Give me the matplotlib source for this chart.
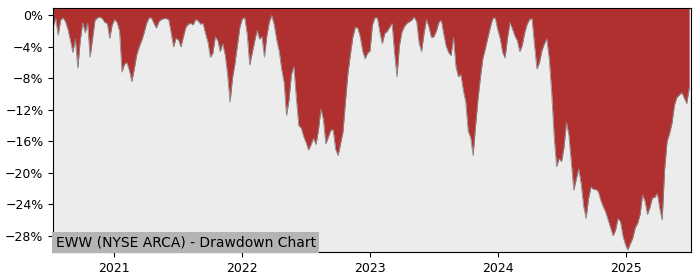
import matplotlib
matplotlib.use('Agg')
import matplotlib.pyplot as plt
import matplotlib.dates as mdates
from matplotlib.ticker import PercentFormatter
import pandas as pd

# weekly drawdown (%), starting mid July 2020
start_date = "2020-07-13"
drawdown = [
    -1.45, -0.4, -2.5, -0.6, -0.3, -0.8, -1.8, -3.2, -4.7, -3.0,
    -6.7, -3.2, -0.9, -2.2, -1.0, -5.3, -3.0, -0.6, -0.3, -0.2,
    -0.4, -0.9, -1.0, -2.9, -1.2, -0.5, -0.9, -2.0, -7.2, -6.2,
    -6.0, -7.0, -8.4, -6.8, -5.0, -4.0, -3.2, -2.2, -1.0, -0.3,
    -0.3, -1.0, -1.6, -0.8, -0.5, -0.4, -0.4, -0.5, -2.2, -4.0,
    -2.9, -3.1, -4.0, -2.7, -1.5, -1.1, -1.0, -1.2, -0.5, -0.7,
    -1.1, -1.0, -2.3, -3.4, -5.3, -4.8, -2.7, -3.2, -4.6, -3.6,
    -5.0, -7.5, -11.0, -8.0, -6.1, -3.8, -1.5, -0.4, -0.3, -2.4,
    -6.3, -4.8, -3.3, -1.9, -3.0, -2.7, -5.3, -2.6, -0.8, 0.0,
    -1.2, -3.1, -4.5, -6.8, -8.5, -12.7, -10.8, -7.5, -6.5, -10.5,
    -14.0, -14.3, -15.4, -16.2, -17.1, -16.4, -15.6, -16.4, -14.6, -11.9,
    -13.2, -16.3, -15.5, -14.6, -14.5, -17.0, -17.8, -16.3, -14.8, -11.0,
    -7.4, -5.0, -2.8, -1.5, -1.6, -2.7, -4.5, -5.5, -4.8, -4.5,
    -1.2, -0.3, -0.3, -2.1, -3.6, -2.3, -2.0, -1.5, -1.0, -4.8,
    -7.8, -3.8, -2.1, -1.4, -1.0, -0.8, -0.6, -0.2, -0.8, -3.5,
    -4.6, -2.3, -0.5, -1.5, -2.8, -2.7, -2.0, -0.9, -0.6, -2.3,
    -3.9, -4.7, -5.1, -2.8, -6.5, -7.8, -7.5, -9.5, -11.0, -14.7,
    -15.5, -17.8, -14.0, -10.6, -7.8, -5.4, -4.2, -2.8, -1.5, -0.4,
    -0.3, -1.8, -2.9, -4.7, -5.4, -2.9, -0.9, -1.7, -2.6, -3.2,
    -4.6, -3.8, -2.2, -1.1, -0.5, -0.4, -3.8, -6.8, -6.0, -4.5,
    -3.6, -3.0, -5.5, -9.8, -15.4, -19.2, -18.2, -18.6, -16.8, -13.6,
    -15.2, -18.7, -22.2, -20.8, -19.5, -21.4, -24.2, -25.8, -23.3, -21.8,
    -22.1, -22.1, -22.4, -23.5, -24.3, -25.0, -26.0, -27.0, -28.0, -27.3,
    -25.8, -26.2, -28.0, -29.1, -29.8, -29.0, -28.3, -27.0, -26.4, -25.3,
    -22.8, -23.6, -25.3, -24.4, -23.2, -23.1, -22.6, -24.5, -26.0, -19.6,
    -16.0, -15.0, -13.7, -11.4, -10.4, -10.1, -9.8, -10.5, -11.2, -9.2,
]
dates = pd.date_range(start_date, periods=len(drawdown), freq="7D")

title = "EWW (NYSE ARCA) - Drawdown Chart"
y_ticks = [0, -4, -8, -12, -16, -20, -24, -28]
y_top, y_bottom = 1.0, -30.1

fig = plt.figure(figsize=(7, 2.8), dpi=100)
ax = fig.add_axes([0.076, 0.099, 0.911, 0.874])
ax.set_facecolor('#ececec')

ax.fill_between(dates, drawdown, y_top, color='#b03030', linewidth=0)
ax.plot(dates, drawdown, color='#8a8a8a', linewidth=0.6)

ax.set_ylim(y_bottom, y_top)
ax.set_xlim(dates[0], dates[-1] + pd.Timedelta(days=5))
ax.set_yticks(y_ticks)
ax.yaxis.set_major_formatter(PercentFormatter(xmax=100, decimals=0))
ax.xaxis.set_major_locator(mdates.YearLocator())
ax.xaxis.set_major_formatter(mdates.DateFormatter('%Y'))
ax.tick_params(axis='both', labelsize=9)

ax.text(0.004, 0.012, title, transform=ax.transAxes, fontsize=10,
        ha='left', va='bottom',
        bbox=dict(facecolor='#b4b4b4', edgecolor='none', pad=2.5))

plt.savefig('out.png', dpi=100)
